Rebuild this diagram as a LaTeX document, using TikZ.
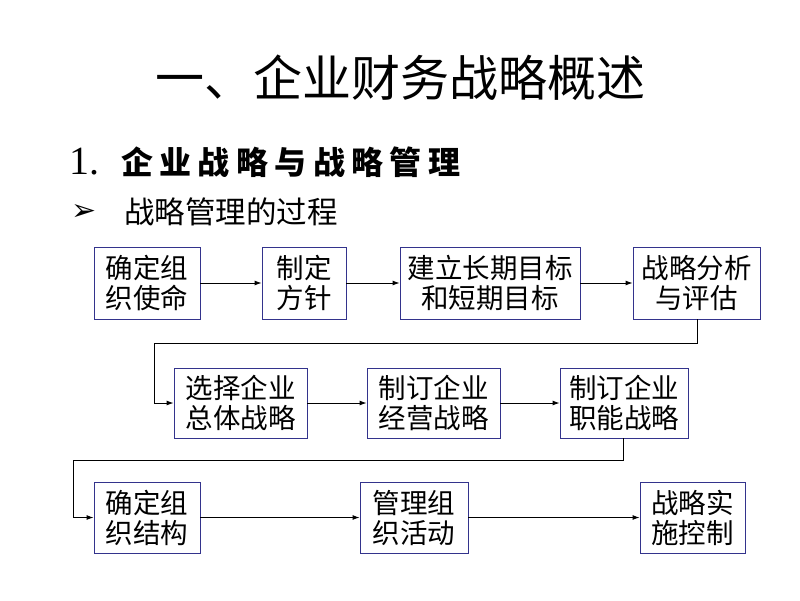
\documentclass[tikz,border=0pt]{standalone}
\usepackage{fontspec}
\setmainfont{Liberation Serif}
\newfontfamily\cjk{Noto Sans CJK SC}
\newfontfamily\cjksp[LetterSpace=20]{Noto Sans CJK SC}
\newfontfamily\sym{DejaVu Sans}
\usetikzlibrary{arrows.meta}
\definecolor{boxblue}{RGB}{51,51,140}
\tikzset{
  procbox/.style={draw=boxblue, line width=0.9pt, fill=white, inner sep=0pt,
    minimum height=72pt, align=center, font=\cjk\fontsize{27.5}{30}\selectfont},
  conn/.style={draw=black, line width=0.9pt, -{Latex[length=7pt,width=5pt]}}
}
\begin{document}
\begin{tikzpicture}[x=1pt,y=-1pt]
\useasboundingbox (0,0) rectangle (800,600);
% titles
\node (title) at (400,78) {\cjk\fontsize{49}{52}\selectfont 一、企业财务战略概述};
\node[anchor=west] (num) at (66,162) {\fontsize{40}{44}\selectfont 1.};
\node[anchor=west, inner sep=0pt] (sub) at (121,162) {\cjksp\bfseries\fontsize{32}{36}\selectfont 企业战略与战略管理};
\node (bullet) at (84,212) {\sym\fontsize{30}{32}\selectfont ➢};
\node[anchor=west, inner sep=0pt] (proc) at (124,212) {\cjk\fontsize{30.5}{34}\selectfont 战略管理的过程};
% row 1
\node[procbox, minimum width=106pt] (b1) at (147,283) {确定组\\织使命};
\node[procbox, minimum width=84pt] (b2) at (304,283) {制定\\方针};
\node[procbox, minimum width=180pt] (b3) at (490,283) {建立长期目标\\和短期目标};
\node[procbox, minimum width=127pt] (b4) at (696.5,283) {战略分析\\与评估};
% row 2
\node[procbox, minimum width=133pt, minimum height=70pt] (b5) at (240.5,403) {选择企业\\总体战略};
\node[procbox, minimum width=133pt, minimum height=70pt] (b6) at (433.5,403) {制订企业\\经营战略};
\node[procbox, minimum width=128pt, minimum height=70pt] (b7) at (624,403) {制订企业\\职能战略};
% row 3
\node[procbox, minimum width=106pt, minimum height=71pt] (b8) at (147,517.5) {确定组\\织结构};
\node[procbox, minimum width=108pt, minimum height=71pt] (b9) at (414,517.5) {管理组\\织活动};
\node[procbox, minimum width=105pt, minimum height=71pt] (b10) at (692.5,517.5) {战略实\\施控制};
% turning points
\coordinate (t1a) at (697,343);
\coordinate (t1b) at (154,343);
\coordinate (t2a) at (623,460);
\coordinate (t2b) at (73,460);
% connectors
\draw[conn] (b1) -- (b2);
\draw[conn] (b2) -- (b3);
\draw[conn] (b3) -- (b4);
\draw[conn] (b4.south -| t1a) -- (t1a) -- (t1b) |- (b5.west);
\draw[conn] (b5) -- (b6);
\draw[conn] (b6) -- (b7);
\draw[conn] (b7.south -| t2a) -- (t2a) -- (t2b) |- (b8.west);
\draw[conn] (b8) -- (b9);
\draw[conn] (b9) -- (b10);
\end{tikzpicture}
\end{document}
